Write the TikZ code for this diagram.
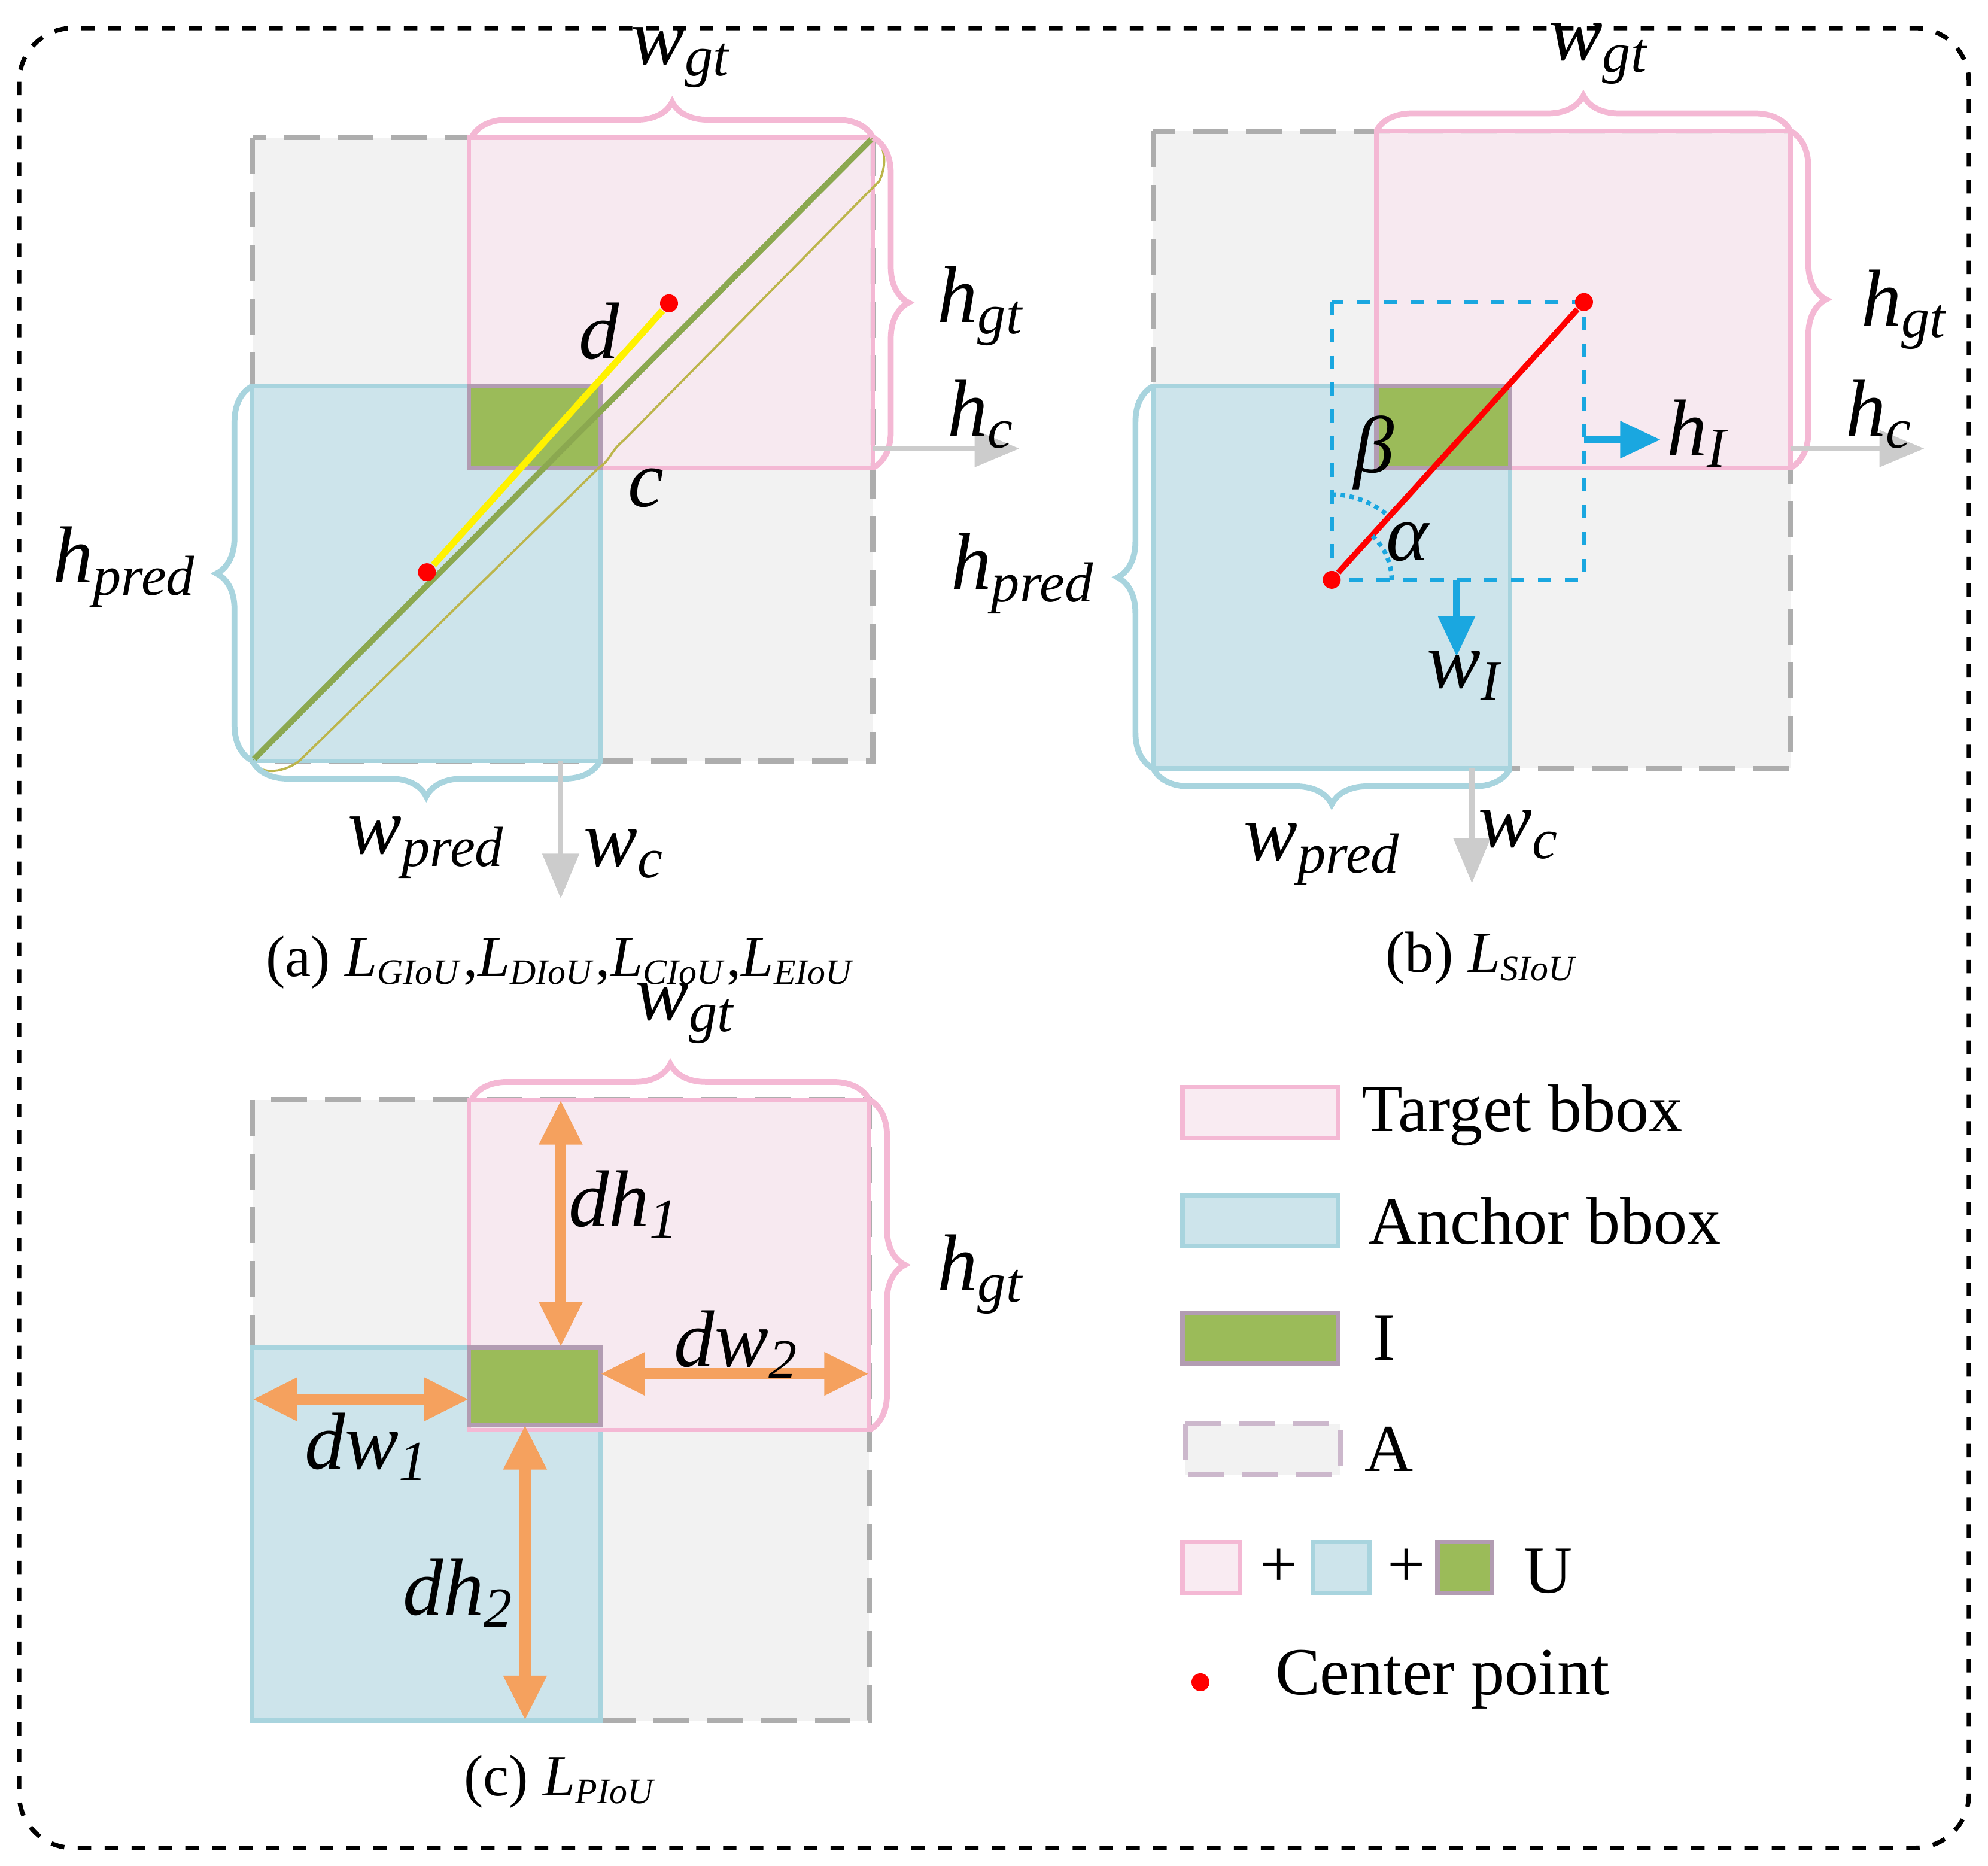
\documentclass[tikz,border=0pt]{standalone}
\usepackage{fontspec}
\setmainfont{Liberation Serif}
\usetikzlibrary{decorations.pathreplacing,arrows.meta}
\definecolor{pinkfill}{HTML}{F8E8F0}
\definecolor{pinkline}{HTML}{F4B8D4}
\definecolor{bluefill}{HTML}{CDE4EB}
\definecolor{blueline}{HTML}{A8D4DE}
\definecolor{greenfill}{HTML}{9BBB59}
\definecolor{grayfill}{HTML}{F2F2F2}
\definecolor{grayline}{HTML}{ADADAD}
\definecolor{orangearr}{HTML}{F5A15E}
\definecolor{cyanline}{HTML}{1AA7E0}
\newcommand{\sym}[2]{\textit{#1}\textsubscript{\textit{#2}}}
\tikzset{
  abox/.style={fill=grayfill,draw=grayline,dashed,line width=1.2pt,dash pattern=on 8pt off 4pt},
  tbox/.style={fill=pinkfill,fill opacity=0.85,draw=pinkline,line width=1pt},
  pbox/.style={fill=bluefill,draw=blueline,line width=1pt},
  ibox/.style={fill=greenfill,draw=gray!70!violet!60,line width=1pt},
  pbrace/.style={draw=pinkline,line width=1.3pt,decorate,decoration={brace,amplitude=0.28cm}},
  bbrace/.style={draw=blueline,line width=1.3pt,decorate,decoration={brace,amplitude=0.28cm}},
  carr/.style={draw=gray!40,line width=1.2pt,-{Triangle[length=10pt,width=8pt]}},
  oarr/.style={draw=orangearr,line width=2.5pt,{Triangle[length=10pt,width=9pt]}-{Triangle[length=10pt,width=9pt]}},
  lbl/.style={font=\fontsize{18}{20}\selectfont,inner sep=0pt},
  captxt/.style={font=\fontsize{13}{14}\selectfont,inner sep=0pt},
  leg/.style={font=\fontsize{15}{16}\selectfont,inner sep=0pt,anchor=west},
  cpt/.style={circle,fill=red,inner sep=0pt,minimum size=4pt}
}
\begin{document}
\begin{tikzpicture}[x=0.01cm,y=-0.01cm]
	\useasboundingbox (0,0) rectangle (1560,1464);
	\draw[dashed,line width=1pt,rounded corners=12pt] (15,22) rectangle (1545,1450);
	% (a)
		\draw[abox] (198,108) rectangle (685,597);
		\draw[pbox] (198,303) rectangle (471,597);
		\draw[tbox] (368,108) rectangle (685,367);
		\draw[ibox] (368,303) rectangle (471,367);
		\coordinate (aLL) at (198,597);
		\coordinate (aUR) at (685,108);
		\draw[olive!60,line width=0.5pt] (aLL) .. controls (205,610) and (225,605) .. (235,597) -- (470,367)
			.. controls (480,360) and (478,355) .. (490,345) -- (690,142) .. controls (698,125) and (692,110) .. (aUR);
		\draw[greenfill!90!black,line width=1.3pt] (aLL) -- (aUR);
		\node[cpt] (ap) at (335,449) {};
		\node[cpt] (ag) at (525,238) {};
		\draw[yellow,line width=1.5pt] (ap) -- (ag);
		\node[lbl] (ad) at (470,260) {\textit{d}};
		\node[lbl] (ac) at (507,383) {\textit{c}};
		\draw[pbrace] (370,108) -- (685,108);
		\node[lbl] (awgt) at (535,45) {\sym{w}{gt}};
		\draw[pbrace] (685,108) -- (685,367);
		\node[lbl] (ahgt) at (770,240) {\sym{h}{gt}};
		\draw[bbrace] (198,597) -- (198,303);
		\node[lbl] (ahpred) at (98,445) {\sym{h}{pred}};
		\draw[bbrace] (471,597) -- (198,597);
		\node[lbl] (awpred) at (335,665) {\sym{w}{pred}};
		\coordinate (ahc0) at (685,352);
		\coordinate (ahc1) at (800,352);
		\draw[carr] (ahc0) -- (ahc1);
		\node[lbl] (ahc) at (770,325) {\sym{h}{c}};
		\coordinate (awc0) at (440,597);
		\coordinate (awc1) at (440,705);
		\draw[carr] (awc0) -- (awc1);
		\node[lbl] (awc) at (490,670) {\sym{w}{c}};
		\node[captxt] (acap) at (440,755) {(a) \sym{L}{\footnotesize GIoU},\sym{L}{\footnotesize DIoU},\sym{L}{\footnotesize CIoU},\sym{L}{\footnotesize EIoU}};
	% (b)
		\draw[abox] (905,103) rectangle (1405,603);
		\draw[pbox] (905,303) rectangle (1185,603);
		\draw[tbox] (1080,103) rectangle (1405,367);
		\draw[ibox] (1080,303) rectangle (1185,367);
		\draw[cyanline,dashed,line width=1pt] (1045,237) rectangle (1243,455);
		\node[cpt] (bp) at (1045,455) {};
		\node[cpt] (bg) at (1243,237) {};
		\draw[red,line width=1.3pt] (bp) -- (bg);
		\draw[cyanline,densely dotted,line width=1pt] (1092,455) arc[start angle=0,end angle=-47.8,radius=47];
		\draw[cyanline,densely dotted,line width=1pt] (1045,388) arc[start angle=-90,end angle=-47.8,radius=67];
		\node[lbl] (bbeta) at (1078,355) {\textit{β}};
		\node[lbl] (balpha) at (1105,425) {\textit{α}};
		\coordinate (bhi0) at (1243,345);
		\coordinate (bhi1) at (1303,345);
		\draw[cyanline,line width=1.5pt,-{Triangle[length=9pt,width=8pt]}] (bhi0) -- (bhi1);
		\node[lbl] (bhi) at (1333,340) {\sym{h}{I}};
		\coordinate (bwi0) at (1143,455);
		\coordinate (bwi1) at (1143,515);
		\draw[cyanline,line width=1.5pt,-{Triangle[length=9pt,width=8pt]}] (bwi0) -- (bwi1);
		\node[lbl] (bwi) at (1150,530) {\sym{w}{I}};
		\draw[pbrace] (1080,103) -- (1405,103);
		\node[lbl] (bwgt) at (1255,42) {\sym{w}{gt}};
		\draw[pbrace] (1405,103) -- (1405,367);
		\node[lbl] (bhgt) at (1495,243) {\sym{h}{gt}};
		\draw[bbrace] (905,603) -- (905,303);
		\node[lbl] (bhpred) at (803,450) {\sym{h}{pred}};
		\draw[bbrace] (1185,603) -- (905,603);
		\node[lbl] (bwpred) at (1038,670) {\sym{w}{pred}};
		\coordinate (bhc0) at (1405,352);
		\coordinate (bhc1) at (1510,352);
		\draw[carr] (bhc0) -- (bhc1);
		\node[lbl] (bhc) at (1475,325) {\sym{h}{c}};
		\coordinate (bwc0) at (1155,603);
		\coordinate (bwc1) at (1155,693);
		\draw[carr] (bwc0) -- (bwc1);
		\node[lbl] (bwc) at (1192,655) {\sym{w}{c}};
		\node[captxt] (bcap) at (1163,752) {(b) \sym{L}{\footnotesize SIoU}};
	% (c)
		\draw[abox] (198,863) rectangle (682,1350);
		\draw[pbox] (198,1057) rectangle (471,1350);
		\draw[tbox] (368,863) rectangle (682,1122);
		\draw[ibox] (368,1057) rectangle (471,1118);
		\coordinate (cdh1a) at (440,863);
		\coordinate (cdh1b) at (440,1057);
		\draw[oarr] (cdh1a) -- (cdh1b);
		\node[lbl] (cdh1) at (490,945) {\sym{dh}{1}};
		\coordinate (cdw2a) at (471,1078);
		\coordinate (cdw2b) at (682,1078);
		\draw[oarr] (cdw2a) -- (cdw2b);
		\node[lbl] (cdw2) at (578,1055) {\sym{dw}{2}};
		\coordinate (cdw1a) at (198,1098);
		\coordinate (cdw1b) at (368,1098);
		\draw[oarr] (cdw1a) -- (cdw1b);
		\node[lbl] (cdw1) at (288,1135) {\sym{dw}{1}};
		\coordinate (cdh2a) at (412,1118);
		\coordinate (cdh2b) at (412,1350);
		\draw[oarr] (cdh2a) -- (cdh2b);
		\node[lbl] (cdh2) at (360,1250) {\sym{dh}{2}};
		\draw[pbrace] (370,863) -- (682,863);
		\node[lbl] (cwgt) at (538,795) {\sym{w}{gt}};
		\draw[pbrace] (682,863) -- (682,1122);
		\node[lbl] (chgt) at (770,1000) {\sym{h}{gt}};
		\node[captxt] (ccap) at (440,1398) {(c) \sym{L}{\footnotesize PIoU}};
	% legend
		\draw[tbox] (928,853) rectangle (1050,893);
		\node[leg] (lt) at (1068,875) {Target bbox};
		\draw[pbox] (928,938) rectangle (1050,978);
		\node[leg] (la) at (1073,958) {Anchor bbox};
		\draw[ibox] (928,1030) rectangle (1050,1070);
		\node[leg] (li) at (1077,1050) {I};
		\draw[abox,draw=gray!60!violet!40] (930,1117) rectangle (1052,1157);
		\node[leg] (lA) at (1070,1137) {A};
		\draw[tbox] (928,1210) rectangle (973,1250);
		\node[leg] (lp1) at (988,1230) {+};
		\draw[pbox] (1030,1210) rectangle (1075,1250);
		\node[leg] (lp2) at (1088,1230) {+};
		\draw[ibox] (1128,1210) rectangle (1171,1250);
		\node[leg] (lu) at (1195,1233) {U};
		\node[cpt] (lc) at (942,1320) {};
		\node[leg] (lcp) at (1000,1318) {Center point};
\end{tikzpicture}
\end{document}
